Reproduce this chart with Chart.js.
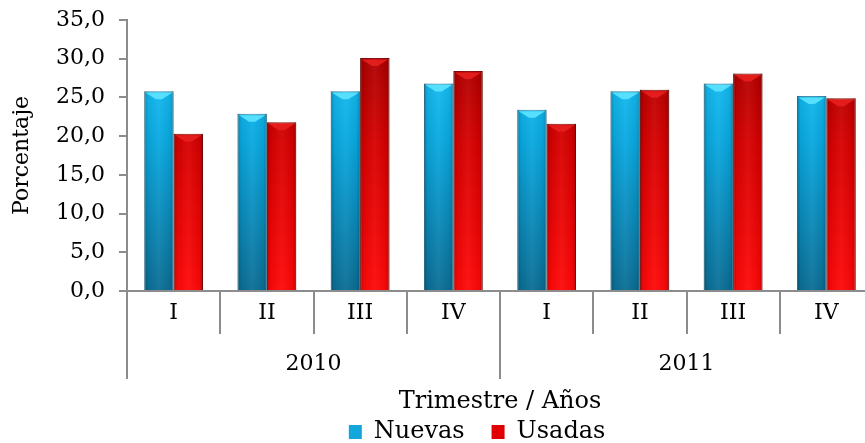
<!DOCTYPE html>
<html>
<head>
<meta charset="utf-8">
<script src="https://cdn.jsdelivr.net/npm/chart.js@4/dist/chart.umd.min.js"></script>
<style>
  html, body { margin: 0; padding: 0; background: #fff; overflow: hidden; }
  #wrap { width: 874px; height: 443px; position: relative; }
</style>
</head>
<body>
<div id="wrap"><canvas id="chart"></canvas></div>
<script>
'use strict';

// data
const quarters = ['I', 'II', 'III', 'IV', 'I', 'II', 'III', 'IV'];
const years = ['2010', '2011'];
const nuevas = [25.8, 22.9, 25.8, 26.8, 23.4, 25.8, 26.8, 25.2];
const usadas = [20.3, 21.8, 30.1, 28.4, 21.6, 26.0, 28.1, 24.9];
const yMin = 0;
const yMax = 35;
const yStep = 5;

const FONT = 'DejaVu Serif';
const AXIS_GREY = '#8c8c8c';
const NBSP = '\u00a0';

function vGradient(ctx, area, stops) {
  const g = ctx.createLinearGradient(0, area.top, 0, area.bottom);
  stops.forEach(([p, c]) => g.addColorStop(p, c));
  return g;
}

function blueFill(context) {
  const { ctx, chartArea } = context.chart;
  if (!chartArea) return '#0a9ad0';
  return vGradient(ctx, chartArea, [[0, '#1ecbff'], [0.45, '#08a8e0'], [1, '#0b6d94']]);
}

function redFill(context) {
  const { ctx, chartArea } = context.chart;
  if (!chartArea) return '#e00000';
  return vGradient(ctx, chartArea, [[0, '#9a0000'], [0.45, '#d60000'], [1, '#ff0808']]);
}

// bevel / 3D shading drawn over the library's own bar elements
const bevelPlugin = {
  id: 'bevel',
  afterDatasetsDraw(chart) {
    const { ctx } = chart;
    const tops = ['rgba(90,225,255,0.95)', 'rgba(230,30,30,0.95)'];
    chart.data.datasets.forEach((ds, di) => {
      const meta = chart.getDatasetMeta(di);
      meta.data.forEach((bar) => {
        const { x, y, base, width } = bar.getProps(['x', 'y', 'base', 'width'], true);
        const left = x - width / 2;
        const right = x + width / 2;
        ctx.save();
        const h = ctx.createLinearGradient(left, 0, right, 0);
        h.addColorStop(0, 'rgba(0,0,0,0.28)');
        h.addColorStop(0.12, 'rgba(0,0,0,0.05)');
        h.addColorStop(0.5, 'rgba(255,255,255,0.05)');
        h.addColorStop(0.88, 'rgba(0,0,0,0.05)');
        h.addColorStop(1, 'rgba(0,0,0,0.25)');
        ctx.fillStyle = h;
        ctx.fillRect(left, y, width, base - y);
        ctx.beginPath();
        ctx.moveTo(left + 1.5, y + 1.5);
        ctx.lineTo(right - 1.5, y + 1.5);
        ctx.lineTo(x + 3, y + 8);
        ctx.lineTo(x - 3, y + 8);
        ctx.closePath();
        ctx.fillStyle = tops[di];
        ctx.fill();
        ctx.restore();
      });
    });
  }
};

const fmt = (v) => Number(v).toFixed(1).replace('.', ',');

Chart.defaults.font.family = FONT;
Chart.defaults.font.size = 22;
Chart.defaults.color = '#000';

new Chart(document.getElementById('chart').getContext('2d'), {
  type: 'bar',
  data: {
    labels: quarters,
    datasets: [
      {
        label: 'Nuevas',
        data: nuevas,
        backgroundColor: blueFill,
        borderColor: '#3c8fae',
        borderWidth: 1,
        categoryPercentage: 0.63,
        barPercentage: 1.0,
        legendColor: '#12a6db'
      },
      {
        label: 'Usadas',
        data: usadas,
        backgroundColor: redFill,
        borderColor: '#8a0a0a',
        borderWidth: 1,
        categoryPercentage: 0.63,
        barPercentage: 1.0,
        legendColor: '#e00000'
      }
    ]
  },
  options: {
    responsive: true,
    maintainAspectRatio: false,
    animation: false,
    layout: { padding: { top: 20, right: 1, left: 0, bottom: -11 } },
    plugins: {
      tooltip: { enabled: false },
      legend: {
        position: 'bottom',
        fullSize: false,
        labels: {
          boxWidth: 13,
          boxHeight: 14,
          padding: 4,
          font: { family: FONT, size: 24 },
          generateLabels(chart) {
            // trailing spaces: widen the gap between entries and nudge the block left
            const pads = [NBSP.repeat(3), NBSP.repeat(6)];
            return chart.data.datasets.map((ds, i) => ({
              text: ds.label + pads[i],
              fillStyle: ds.legendColor,
              strokeStyle: ds.legendColor,
              lineWidth: 0,
              datasetIndex: i
            }));
          }
        }
      }
    },
    scales: {
      y: {
        min: yMin,
        max: yMax,
        ticks: {
          stepSize: yStep,
          padding: 14,
          callback: (v) => fmt(v),
          font: { family: FONT, size: 22 }
        },
        grid: { drawOnChartArea: false, tickLength: 8, color: AXIS_GREY, lineWidth: 2 },
        border: { color: AXIS_GREY, width: 2 },
        title: {
          display: true,
          text: 'Porcentaje',
          padding: { top: 9, bottom: 0 },
          font: { family: FONT, size: 22 }
        },
        afterFit(scale) {
          scale.width = 127;
          scale.paddingTop = 0;
          scale.paddingBottom = 0;
        }
      },
      x: {
        type: 'category',
        offset: true,
        grid: { offset: true, drawOnChartArea: false, tickLength: 43, color: AXIS_GREY, lineWidth: 2 },
        border: { color: AXIS_GREY, width: 2 },
        ticks: { padding: -34, maxRotation: 0, autoSkip: false, font: { family: FONT, size: 22 } },
        afterFit(scale) { scale.height = 43; }
      },
      x2: {
        type: 'category',
        position: 'bottom',
        labels: years,
        offset: true,
        grid: { offset: true, drawOnChartArea: false, tickLength: 45, color: AXIS_GREY, lineWidth: 2 },
        border: { display: false },
        ticks: { padding: -28, maxRotation: 0, autoSkip: false, font: { family: FONT, size: 22 } },
        title: {
          display: true,
          text: 'Trimestre / Años',
          padding: { top: 0, bottom: 0 },
          font: { family: FONT, size: 24 }
        },
        afterFit(scale) { scale.height = 82; }
      }
    }
  },
  plugins: [bevelPlugin]
});
</script>
</body>
</html>
